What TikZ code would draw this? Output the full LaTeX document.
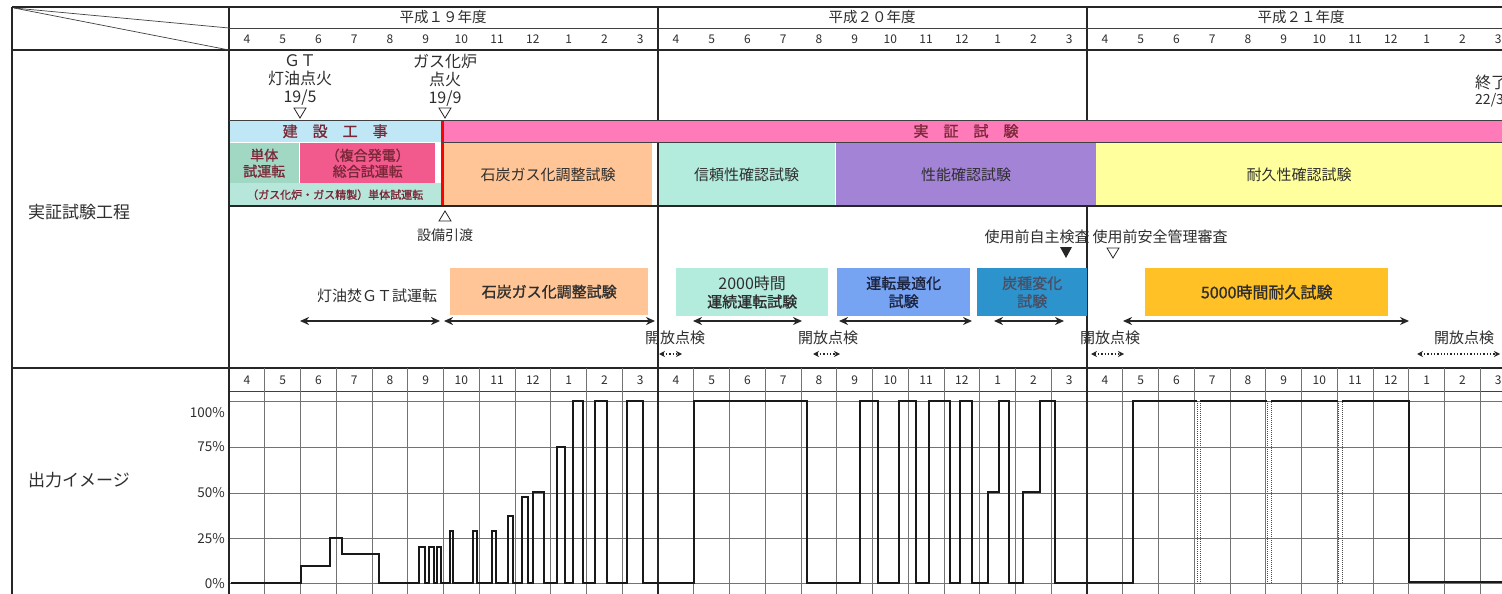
\documentclass[tikz,border=0pt]{standalone}
\usepackage{fontspec}
\setmainfont{Noto Sans CJK JP}
\newfontfamily\bcjk[FakeBold=1.2]{Noto Sans CJK JP}
\usetikzlibrary{arrows.meta}
\definecolor{cSky}{HTML}{BFE7F5}
\definecolor{cPink}{HTML}{FF7AB8}
\definecolor{cTeal}{HTML}{A0D8C4}
\definecolor{cRose}{HTML}{F25A8E}
\definecolor{cMint}{HTML}{B7E6DA}
\definecolor{cPeach}{HTML}{FFC596}
\definecolor{cMint2}{HTML}{B3EBDD}
\definecolor{cPurple}{HTML}{A383D6}
\definecolor{cYellow}{HTML}{FFFF9E}
\definecolor{cBlue1}{HTML}{77A4F2}
\definecolor{cBlue2}{HTML}{2D93CC}
\definecolor{cAmber}{HTML}{FFC125}
\definecolor{cMaroon}{HTML}{7A2838}
\definecolor{cTxt}{HTML}{2E2E2E}
\definecolor{cNavy}{HTML}{1C2440}
\newcommand{\fsz}[2]{\fontsize{#1}{#2}\selectfont}
\begin{document}
\begin{tikzpicture}[x=1pt,y=-1pt,
  frame/.style={line width=1.4pt, black!85},
  thinln/.style={line width=0.7pt, black!75},
  gridln/.style={line width=0.8pt, black!55},
  curve/.style={line width=1.5pt, black!90, line join=miter},
  dotc/.style={line width=1pt, black!70, densely dotted},
  pbox/.style={inner sep=0pt, anchor=north west, align=center, text=cTxt, font=\fsz{15}{18}},
  bbox/.style={pbox, font=\bcjk\fsz{15}{18}},
  lbl/.style={inner sep=0pt, text=cTxt, align=center},
  dbl/.style={line width=2pt, black!85, {Stealth[length=9pt,width=8pt]}-{Stealth[length=9pt,width=8pt]}},
  dotarr/.style={line width=1.3pt, black!85, dotted, {Stealth[length=6pt,width=6pt]}-{Stealth[length=6pt,width=6pt]}},
  tri/.style={line width=0.8pt, black!85}
]
\useasboundingbox (0,0) rectangle (1502,594);
\clip (0,0) rectangle (1502,594);
\fill[white] (0,0) rectangle (1502,594);

% ---------- bars and phase boxes ----------
\node[pbox, fill=cSky, minimum width=212pt, minimum height=22pt, text=cMaroon, font=\bcjk\fsz{15}{18}] (kensetsu) at (229,120) {建　設　工　事};
\node[pbox, fill=cPink, minimum width=1060pt, minimum height=22pt] (jissho) at (442,120) {};
\node[lbl, text=cMaroon, font=\bcjk\fsz{15}{18}] (jisshoT) at (966,131) {実　証　試　験};

\node[pbox, fill=cTeal, minimum width=70pt, minimum height=40pt, text=cMaroon, font=\bcjk\fsz{14}{16}] (tantai) at (229,143) {単体\\試運転};
\node[pbox, fill=cRose, minimum width=135pt, minimum height=40pt, text=cMaroon, font=\bcjk\fsz{14}{16}] (sogo) at (300,143) {（複合発電）\\総合試運転};
\node[pbox, fill=cMint, minimum width=212pt, minimum height=23pt, text=cMaroon, font=\bcjk\fsz{11}{13}] (gaskaro) at (229,183) {（ガス化炉・ガス精製）単体試運転};
\node[pbox, fill=cPeach, minimum width=208pt, minimum height=63pt] (sekitan) at (444,143) {石炭ガス化調整試験};
\node[pbox, fill=cMint2, minimum width=177pt, minimum height=63pt] (shinrai) at (658,143) {信頼性確認試験};
\node[pbox, fill=cPurple, minimum width=260pt, minimum height=63pt] (seino) at (836,143) {性能確認試験};
\node[pbox, fill=cYellow, minimum width=406pt, minimum height=63pt] (taikyu) at (1096,143) {耐久性確認試験};

\draw[red, line width=3pt] (442,120) -- (442,207);

% ---------- frame lines ----------
\draw[frame] (12,7) -- (1502,7);
\draw[frame] (12,7) -- (12,594);
\draw[frame] (229,7) -- (229,594);
\draw[frame] (658,7) -- (658,120);
\draw[frame] (658,142) -- (658,594);
\draw[frame] (1087,7) -- (1087,120);
\draw[frame] (1087,206) -- (1087,594);
\draw[thinln] (229,28) -- (1502,28);
\draw[frame] (12,50) -- (1502,50);
\draw[thinln] (229,120) -- (1502,120);
\draw[thinln] (442,142) -- (1502,142);
\draw[frame] (229,206) -- (1502,206);
\draw[frame] (12,368) -- (1502,368);
\draw[thinln] (229,391) -- (1502,391);
\draw[thinln] (14,8) -- (229,28);
\draw[thinln] (14,8) -- (229,50);

% ---------- year and month headers ----------
\node[lbl, font=\fsz{14.5}{16}] (y19) at (443,17) {平成１９年度};
\node[lbl, font=\fsz{14.5}{16}] (y20) at (872,17) {平成２０年度};
\node[lbl, font=\fsz{14.5}{16}] (y21) at (1301,17) {平成２１年度};
\foreach \y in {0,1,2}{
  \foreach \m [count=\i from 0] in {4,5,6,7,8,9,10,11,12,1,2,3}{
    \node[lbl, font=\fsz{12}{14}] (t\y-\i) at ({229+429*\y+35.75*(\i+0.5)},39) {\m};
    \node[lbl, font=\fsz{12}{14}] (c\y-\i) at ({229+429*\y+35.75*(\i+0.5)},380) {\m};
  }
}

% ---------- milestones ----------
\node[lbl, font=\fsz{16}{18}] (gt) at (300,80) {ＧＴ\\灯油点火\\19/5};
\draw[tri] (294,108) -- (306,108) -- (300,118) -- cycle;
\node[lbl, font=\fsz{16}{18}] (gasign) at (445,80) {ガス化炉\\点火\\19/9};
\draw[tri] (439,108) -- (451,108) -- (445,118) -- cycle;
\node[lbl, anchor=west, font=\fsz{16}{18}] (owari) at (1475,82) {終了};
\node[lbl, anchor=west, font=\fsz{14}{16}] (owari2) at (1475,100) {22/3};

% ---------- left labels ----------
\node[lbl, anchor=west, font=\fsz{17}{19}] (kotei) at (28,212) {実証試験工程};
\node[lbl, anchor=west, font=\fsz{17}{19}] (shutsu) at (28,480) {出力イメージ};

% ---------- lower schedule ----------
\draw[tri] (439,221) -- (451,221) -- (445,211) -- cycle;
\node[lbl, font=\fsz{14}{16}] (hikiwatashi) at (445,235) {設備引渡};
\node[lbl, font=\fsz{15}{18}] (toyu) at (377,296) {灯油焚ＧＴ試運転};

\node[bbox, fill=cPeach, minimum width=198pt, minimum height=47pt] (sekitan2) at (450,268) {石炭ガス化調整試験};
\node[pbox, fill=cMint2, minimum width=152pt, minimum height=48pt] (h2000) at (676,268) {{\fsz{16}{18}2000時間}\\{\bcjk 運続運転試験}};
\node[bbox, fill=cBlue1, minimum width=133pt, minimum height=48pt, text=cNavy] (saiteki) at (837,268) {運転最適化\\試験};
\node[bbox, fill=cBlue2, minimum width=110pt, minimum height=48pt, text=cNavy!80] (tanshu) at (977,268) {炭種変化\\試験};
\node[bbox, fill=cAmber, minimum width=243pt, minimum height=48pt, font=\bcjk\fsz{16}{18}] (h5000) at (1145,268) {5000時間耐久試験};

\node[lbl, font=\fsz{15}{18}] (jishu) at (1037,237) {使用前自主検査};
\node[lbl, font=\fsz{15}{18}] (anzen) at (1160,237) {使用前安全管理審査};
\fill[black!85] (1060,247) -- (1072,247) -- (1066,258) -- cycle;
\draw[tri] (1107,248) -- (1119,248) -- (1113,258) -- cycle;

\coordinate (a1l) at (300,321); \coordinate (a1r) at (440,321);
\coordinate (a2l) at (444,321); \coordinate (a2r) at (655,321);
\coordinate (a3l) at (693,321); \coordinate (a3r) at (802,321);
\coordinate (a4l) at (839,321); \coordinate (a4r) at (972,321);
\coordinate (a5l) at (994,321); \coordinate (a5r) at (1064,321);
\coordinate (a6l) at (1123,321); \coordinate (a6r) at (1409,321);
\draw[dbl] (a1l) -- (a1r);
\draw[dbl] (a2l) -- (a2r);
\draw[dbl] (a3l) -- (a3r);
\draw[dbl] (a4l) -- (a4r);
\draw[dbl] (a5l) -- (a5r);
\draw[dbl] (a6l) -- (a6r);

\node[lbl, font=\fsz{15}{18}] (kaiho1) at (675,338) {開放点検};
\node[lbl, font=\fsz{15}{18}] (kaiho2) at (828,338) {開放点検};
\node[lbl, font=\fsz{15}{18}] (kaiho3) at (1110,338) {開放点検};
\node[lbl, font=\fsz{15}{18}] (kaiho4) at (1464,338) {開放点検};
\coordinate (k1l) at (659,354); \coordinate (k1r) at (682,354);
\coordinate (k2l) at (813,354); \coordinate (k2r) at (840,354);
\coordinate (k3l) at (1091,354); \coordinate (k3r) at (1124,354);
\coordinate (k4l) at (1417,354); \coordinate (k4r) at (1500,354);
\draw[dotarr] (k1l) -- (k1r);
\draw[dotarr] (k2l) -- (k2r);
\draw[dotarr] (k3l) -- (k3r);
\draw[dotarr] (k4l) -- (k4r);

% ---------- output chart grid ----------
\foreach \k in {1,...,35}{
  \draw[gridln] ({229+35.75*\k},368) -- ({229+35.75*\k},594);
}
\foreach \yy in {401,447,493,538,583}{
  \draw[gridln] (229,\yy) -- (1502,\yy);
}
\draw[frame] (658,368) -- (658,594);
\draw[frame] (1087,368) -- (1087,594);
\draw[frame] (229,368) -- (229,594);

\node[lbl, anchor=east, font=\fsz{13.5}{15}] (p100) at (225,413) {100\%};
\node[lbl, anchor=east, font=\fsz{13.5}{15}] (p75) at (225,447) {75\%};
\node[lbl, anchor=east, font=\fsz{13.5}{15}] (p50) at (225,493) {50\%};
\node[lbl, anchor=east, font=\fsz{13.5}{15}] (p25) at (225,539) {25\%};
\node[lbl, anchor=east, font=\fsz{13.5}{15}] (p0) at (225,584) {0\%};

% ---------- output curve ----------
\draw[curve] (231,583) -- (301,583) -- (301,566) -- (330,566) -- (330,538) -- (342,538) -- (342,554) -- (379,554) -- (379,583)
 -- (419,583) -- (419,547) -- (425,547) -- (425,583) -- (429,583) -- (429,547) -- (434,547) -- (434,583)
 -- (437,583) -- (437,547) -- (441,547) -- (441,583) -- (450,583) -- (450,531) -- (453,531) -- (453,583)
 -- (473,583) -- (473,531) -- (477,531) -- (477,583) -- (492,583) -- (492,531) -- (496,531) -- (496,583)
 -- (508,583) -- (508,516) -- (513,516) -- (513,583) -- (522,583) -- (522,497) -- (528,497) -- (528,583)
 -- (533,583) -- (533,492) -- (544,492) -- (544,583) -- (557,583) -- (557,447) -- (565,447) -- (565,583)
 -- (573,583) -- (573,401) -- (583,401) -- (583,583) -- (595,583) -- (595,401) -- (607,401) -- (607,583)
 -- (627,583) -- (627,401) -- (643,401) -- (643,583) -- (694,583) -- (694,401) -- (807,401) -- (807,583)
 -- (860,583) -- (860,401) -- (878,401) -- (878,583) -- (899,583) -- (899,401) -- (916,401) -- (916,583)
 -- (929,583) -- (929,401) -- (950,401) -- (950,583) -- (960,583) -- (960,401) -- (972,401) -- (972,583)
 -- (988,583) -- (988,492) -- (999,492) -- (999,401) -- (1009,401) -- (1009,583) -- (1023,583) -- (1023,492)
 -- (1040,492) -- (1040,401) -- (1055,401) -- (1055,583) -- (1133,583) -- (1133,401) -- (1197,401);
\draw[dotc] (1197,401) -- (1197,583) -- (1200,583) -- (1200,401);
\draw[curve] (1200,401) -- (1267,401);
\draw[dotc] (1267,401) -- (1267,583) -- (1271,583) -- (1271,401);
\draw[curve] (1271,401) -- (1338,401);
\draw[dotc] (1338,401) -- (1338,583) -- (1342,583) -- (1342,401);
\draw[curve] (1342,401) -- (1409,401) -- (1409,582) -- (1502,582);
\end{tikzpicture}
\end{document}
